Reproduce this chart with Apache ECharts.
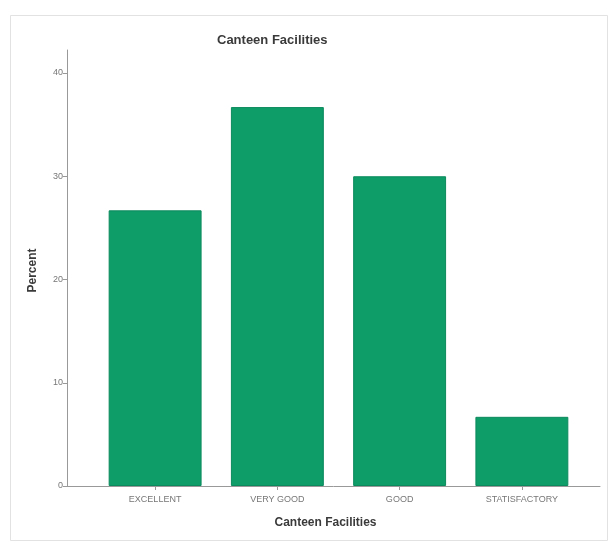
<!DOCTYPE html>
<html>
<head>
<meta charset="utf-8">
<script src="https://cdn.jsdelivr.net/npm/echarts@6/dist/echarts.min.js"></script>
<style>html,body{margin:0;padding:0;background:#fff;}#c{width:611px;height:545px;}</style>
</head>
<body>
<div id="c"></div>
<script>
var categories = ['EXCELLENT', 'VERY GOOD', 'GOOD', 'STATISFACTORY'];
var percentValues = [26.7, 36.7, 30.0, 6.7];
var yTicks = [0, 10, 20, 30, 40];

var chart = echarts.init(document.getElementById('c'));
var FONT = '"Liberation Sans", Arial, sans-serif';
chart.setOption({
  backgroundColor: '#ffffff',
  animation: false,
  graphic: [{
    type: 'rect', left: 8, top: 13, shape: { width: 597, height: 525 },
    style: { fill: 'none', stroke: '#e2e2e2', lineWidth: 1 }, silent: true
  }],
  title: {
    text: 'Canteen Facilities',
    left: 212, top: 29,
    textStyle: { fontFamily: FONT, fontSize: 13, fontWeight: 'bold', color: '#3a3a3a' }
  },
  grid: [
    { left: 67, top: 50, right: 11, bottom: 59 },
    { left: 94, top: 73, width: 489, height: 413 }
  ],
  xAxis: [
    {
      type: 'value', gridIndex: 0, min: 0, max: 1,
      axisLine: { show: true, lineStyle: { color: '#999', width: 1 } },
      axisTick: { show: false }, axisLabel: { show: false }, splitLine: { show: false },
      name: 'Canteen Facilities', nameLocation: 'middle', nameGap: 31,
      nameTextStyle: { fontFamily: FONT, fontSize: 12, fontWeight: 'bold', color: '#3a3a3a', padding: [0, 16, 0, 0] }
    },
    {
      type: 'category', gridIndex: 1, data: categories,
      axisLine: { show: false },
      axisTick: { show: true, alignWithLabel: true, length: 4, lineStyle: { color: '#999' } },
      axisLabel: { fontFamily: FONT, fontSize: 9, color: '#777', margin: 9 }
    }
  ],
  yAxis: [
    {
      type: 'value', gridIndex: 0, min: 0, max: 1,
      axisLine: { show: true, lineStyle: { color: '#999', width: 1 } },
      axisTick: { show: false }, axisLabel: { show: false }, splitLine: { show: false }
    },
    {
      type: 'value', gridIndex: 1, min: yTicks[0], max: yTicks[yTicks.length - 1], interval: 10,
      offset: 27,
      axisLine: { show: false },
      axisTick: { show: true, length: 4, lineStyle: { color: '#999' } },
      axisLabel: { fontFamily: FONT, fontSize: 9, color: '#777', margin: 4 },
      splitLine: { show: false },
      name: 'Percent', nameLocation: 'middle', nameGap: 28, nameRotate: 90,
      nameTextStyle: { fontFamily: FONT, fontSize: 12, fontWeight: 'bold', color: '#3a3a3a', padding: [0, 0, 0, 18] }
    }
  ],
  series: [{
    type: 'bar', xAxisIndex: 1, yAxisIndex: 1,
    data: percentValues,
    barCategoryGap: '24%',
    itemStyle: { color: '#0e9c69', borderColor: '#0b8a5d', borderWidth: 1 }
  }]
});
</script>
</body>
</html>
